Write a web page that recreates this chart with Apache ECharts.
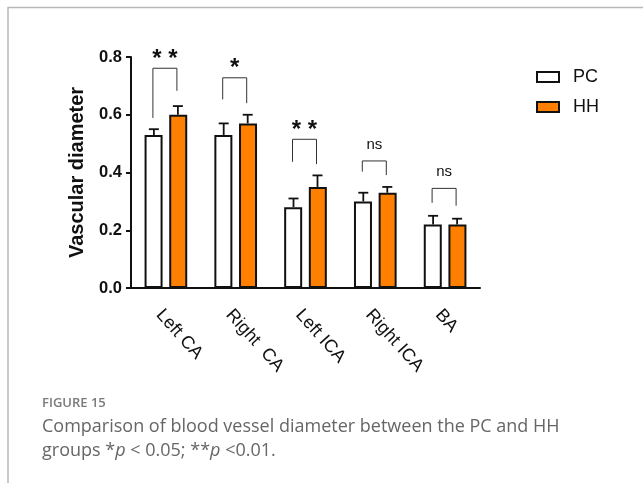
<!DOCTYPE html>
<html>
<head>
<meta charset="utf-8">
<script src="https://cdn.jsdelivr.net/npm/echarts@6/dist/echarts.min.js"></script>
<style>
  html, body { margin: 0; padding: 0; background: #fff; }
  #main { width: 643px; height: 483px; }
</style>
</head>
<body>
<div id="main"></div>
<script>
  // data
  const categories = ['Left CA', 'Right  CA', 'Left ICA', 'Right ICA', 'BA']
  const pcMean = [0.53, 0.53, 0.28, 0.30, 0.22]
  const pcErr = [0.02, 0.04, 0.03, 0.03, 0.03]
  const hhMean = [0.60, 0.57, 0.35, 0.33, 0.22]
  const hhErr = [0.03, 0.03, 0.04, 0.02, 0.02]
  // significance brackets: top of bracket, end of left leg, end of right leg
  const bracketTop = [0.761, 0.728, 0.515, 0.44, 0.345]
  const bracketLeft = [0.589, 0.653, 0.437, 0.403, 0.295]
  const bracketRight = [0.683, 0.640, 0.429, 0.391, 0.285]
  const sigLabels = ['**', '*', '**', 'ns', 'ns']
  const yTicks = [0, 0.2, 0.4, 0.6, 0.8]

  const font = 'Liberation Sans, Arial, sans-serif'
  const orange = '#ff8000'
  const barOffset = 12

  const dom = document.getElementById('main')
  const myChart = echarts.init(dom, null, { renderer: 'canvas' })

  function errorSeries(name, mean, err, offset) {
    return {
      name: name,
      type: 'custom',
      z: 5,
      data: mean.map((m, i) => [i, m, err[i]]),
      renderItem: function (params, api) {
        const base = api.coord([api.value(0), api.value(1)])
        const top = api.coord([api.value(0), api.value(1) + api.value(2)])
        const cx = base[0] + offset
        return {
          type: 'group',
          children: [
            { type: 'line', shape: { x1: cx, y1: base[1], x2: cx, y2: top[1] }, style: { stroke: '#111', lineWidth: 1.8 } },
            { type: 'line', shape: { x1: cx - 5, y1: top[1], x2: cx + 5, y2: top[1] }, style: { stroke: '#111', lineWidth: 1.8 } }
          ]
        }
      }
    }
  }

  const option = {
    animation: false,
    backgroundColor: '#fff',
    textStyle: { fontFamily: font },
    grid: { left: 131, right: 163, top: 57, bottom: 195 },
    legend: {
      data: ['PC', 'HH'],
      orient: 'vertical',
      left: 531,
      top: 63,
      itemWidth: 22,
      itemHeight: 10,
      itemGap: 12,
      icon: 'rect',
      textStyle: { fontSize: 18, color: '#111', fontFamily: font, padding: [0, 0, 0, 9] }
    },
    xAxis: {
      type: 'category',
      data: categories,
      axisLine: { lineStyle: { color: '#111', width: 2 } },
      axisTick: { alignWithLabel: true, length: 6, lineStyle: { color: '#111', width: 2 } },
      axisLabel: { interval: 0, rotate: -48, fontSize: 18, color: '#111', margin: 18, verticalAlign: 'top' }
    },
    yAxis: {
      type: 'value',
      min: 0,
      max: 0.8,
      interval: 0.2,
      name: 'Vascular diameter',
      nameLocation: 'middle',
      nameGap: 44,
      nameTextStyle: { fontSize: 20, fontWeight: 'bold', color: '#111' },
      splitLine: { show: false },
      axisLine: { show: true, lineStyle: { color: '#111', width: 2 } },
      axisTick: { show: true, length: 5, lineStyle: { color: '#111', width: 2 } },
      axisLabel: {
        fontSize: 16.5, fontWeight: 'bold', color: '#111', margin: 9,
        formatter: v => yTicks.includes(+v.toFixed(1)) ? v.toFixed(1) : ''
      }
    },
    series: [
      {
        name: 'PC', type: 'bar', data: pcMean, barWidth: 18, barGap: '37%',
        itemStyle: { color: '#fff', borderColor: '#111', borderWidth: 2 }
      },
      {
        name: 'HH', type: 'bar', data: hhMean, barWidth: 18,
        itemStyle: { color: orange, borderColor: '#111', borderWidth: 2 }
      },
      errorSeries('PC err', pcMean, pcErr, -barOffset),
      errorSeries('HH err', hhMean, hhErr, barOffset),
      {
        name: 'sig',
        type: 'custom',
        z: 6,
        data: bracketTop.map((t, i) => [i, t, bracketLeft[i], bracketRight[i]]),
        renderItem: function (params, api) {
          const topPt = api.coord([api.value(0), api.value(1)])
          const lEnd = api.coord([api.value(0), api.value(2)])
          const rEnd = api.coord([api.value(0), api.value(3)])
          const xl = topPt[0] - barOffset - 1
          const xr = topPt[0] + barOffset - 1
          const lab = sigLabels[params.dataIndex]
          const isStar = lab.indexOf('*') >= 0
          return {
            type: 'group',
            children: [
              {
                type: 'polyline',
                shape: { points: [[xl, lEnd[1]], [xl, topPt[1]], [xr, topPt[1]], [xr, rEnd[1]]] },
                style: { stroke: '#333', lineWidth: 1, fill: null }
              },
              {
                type: 'text',
                x: (xl + xr) / 2,
                y: topPt[1] - 9,
                style: {
                  text: isStar ? lab.split('').join(' ') : lab,
                  fontSize: isStar ? 24 : 15,
                  fontWeight: isStar ? 'bold' : 'normal',
                  fontFamily: font,
                  fill: '#111',
                  align: 'center',
                  verticalAlign: isStar ? 'middle' : 'bottom'
                }
              }
            ]
          }
        }
      }
    ],
    graphic: [
      {
        type: 'polyline',
        shape: { points: [[8, 483], [8, 7.5], [643, 7.5]] },
        style: { stroke: '#b8b8b8', lineWidth: 1.5, fill: null }
      },
      {
        type: 'text',
        left: 42,
        top: 397,
        style: { text: 'FIGURE 15', fontSize: 13, fontWeight: 600, fontFamily: 'Open Sans', fill: '#7a7a7a' }
      },
      {
        type: 'text',
        left: 42,
        top: 415,
        style: {
          text: 'Comparison of blood vessel diameter between the PC and HH\n{n|groups *}{i|p}{n| < 0.05; **}{i|p}{n| <0.01.}',
          fontSize: 18,
          lineHeight: 24,
          fontFamily: 'Open Sans',
          fill: '#666',
          rich: {
            n: { fontSize: 18, fontFamily: 'Open Sans', fill: '#666', lineHeight: 24 },
            i: { fontSize: 18, fontFamily: 'Open Sans', fontStyle: 'italic', fill: '#666', lineHeight: 24 }
          }
        }
      }
    ]
  }
  myChart.setOption(option)
</script>
</body>
</html>
